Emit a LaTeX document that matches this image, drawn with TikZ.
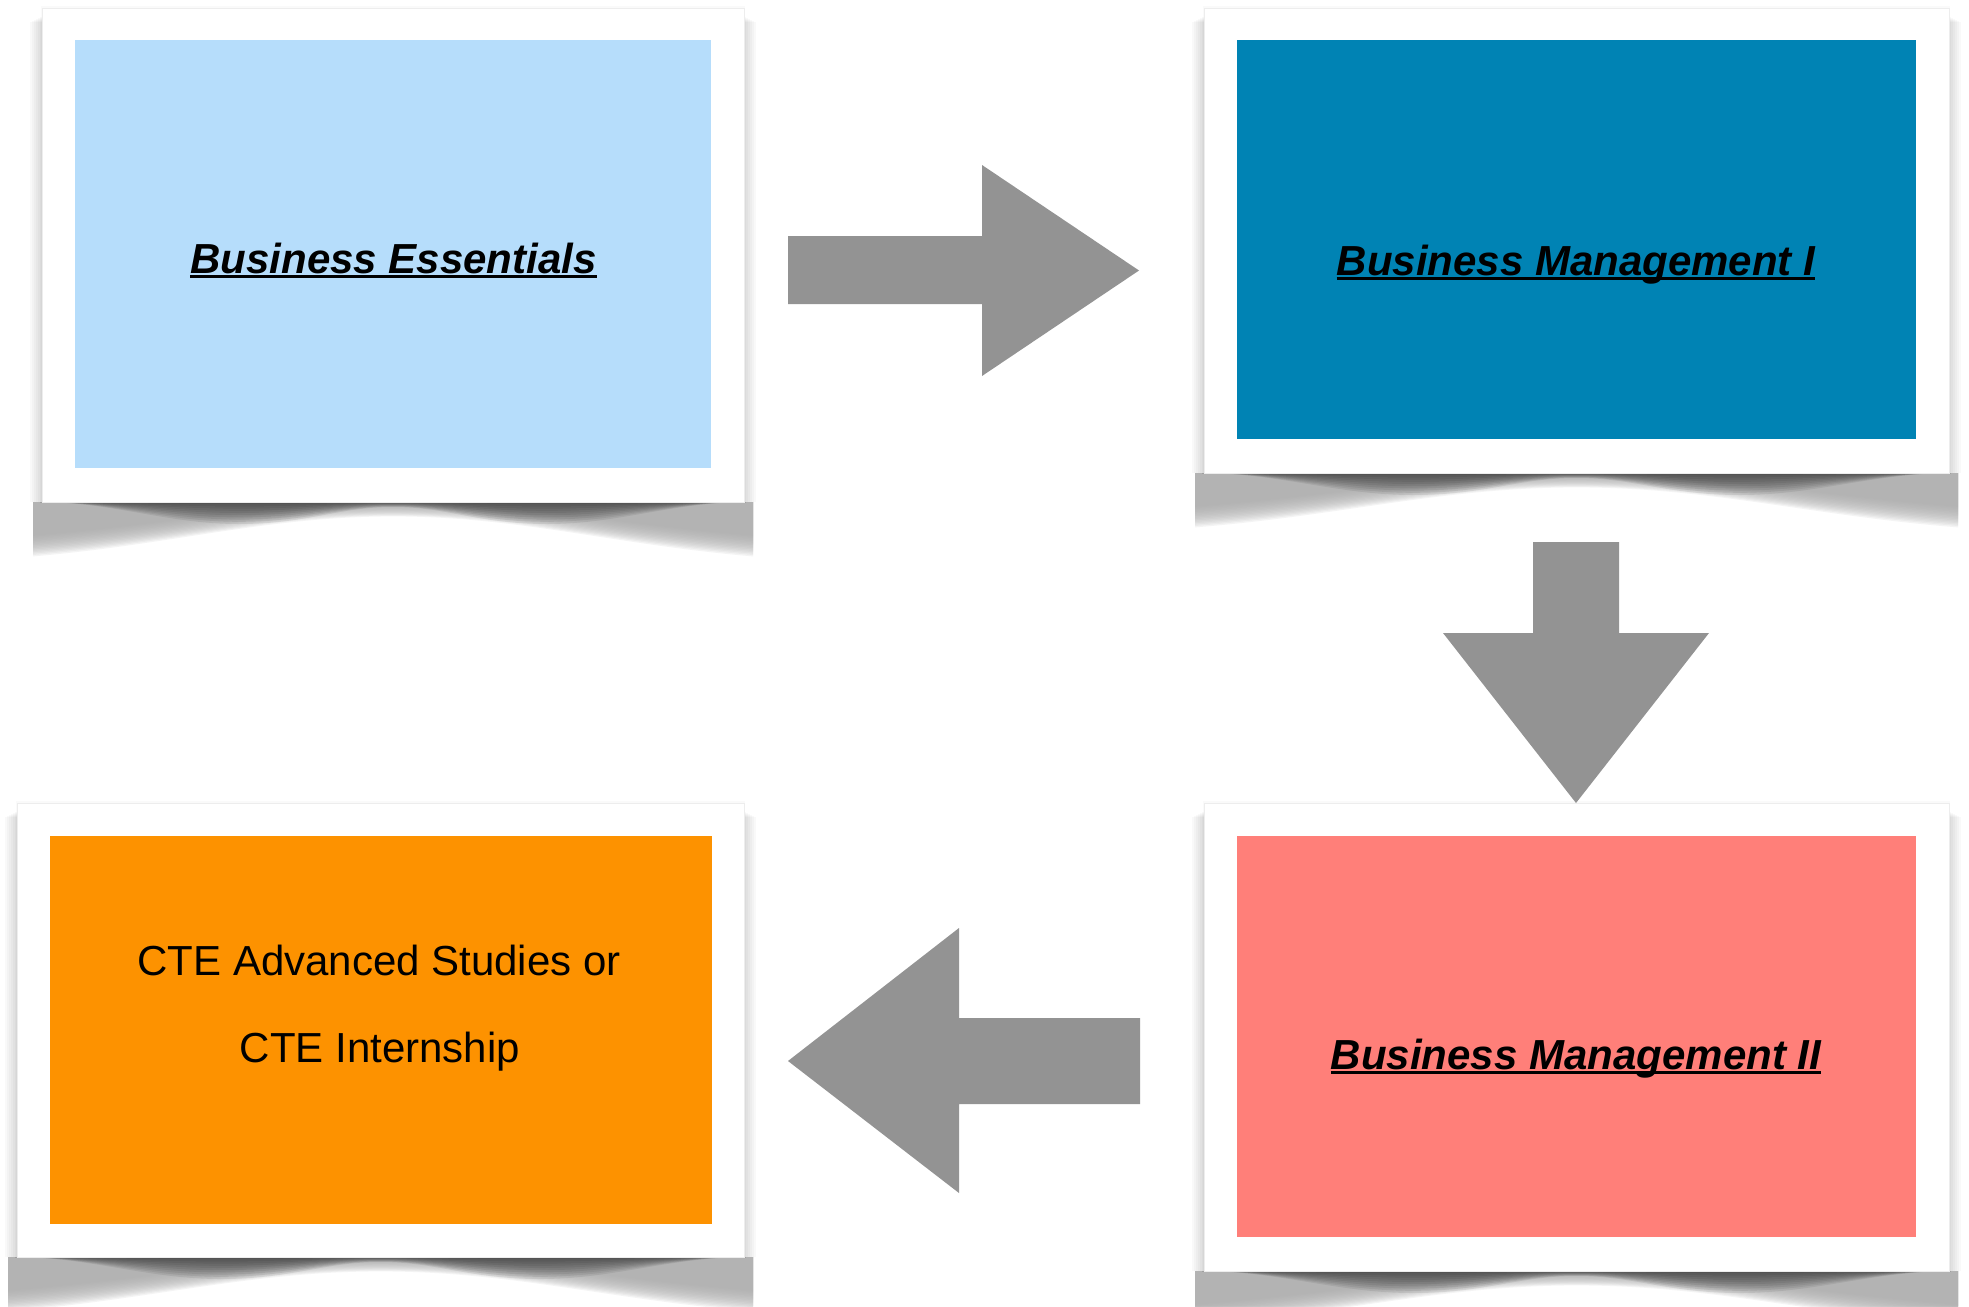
\documentclass[tikz,border=0pt]{standalone}
\usepackage{fontspec}
\setmainfont{Liberation Sans}
\usetikzlibrary{calc}
\definecolor{lightblue}{RGB}{182,221,251}
\definecolor{deepblue}{RGB}{0,131,180}
\definecolor{salmon}{RGB}{255,127,121}
\definecolor{orangebox}{RGB}{253,146,0}
\definecolor{arrowgray}{RGB}{147,147,147}
\definecolor{shbase}{RGB}{172,172,172}
\newcommand\curlshadow[4]{% L R T B
  % light base of the curled shadow
  \foreach \k in {1,...,16}{
    \pgfmathsetmacro\dc{32+1.4*\k}
    \pgfmathsetmacro\dm{0.9*\k}
    \fill[shbase, fill opacity=0.12]
      (#1-9,#4) -- (#1-9,#4+\dc)
      .. controls ({#1-9+0.2*(#2-#1)},{#4+\dc-12}) and ({#1+0.32*(#2-#1)},{#4+\dm}) .. ({(#1+#2)/2},{#4+\dm})
      .. controls ({#2-0.32*(#2-#1)},{#4+\dm}) and ({#2+9-0.2*(#2-#1)},{#4+\dc-12}) .. (#2+9,#4+\dc)
      -- (#2+9,#4) -- cycle;
  }
  % darker band right under the frame
  \foreach \k in {1,...,10}{
    \pgfmathsetmacro\dk{2.2*\k}
    \pgfmathsetmacro\mk{0.5*\k}
    \fill[black, fill opacity=0.07]
      (#1-2,#4)
      .. controls ({#1+0.1*(#2-#1)},{#4}) and ({#1+0.18*(#2-#1)},{#4+\dk}) .. ({#1+0.28*(#2-#1)},{#4+\dk})
      .. controls ({#1+0.38*(#2-#1)},{#4+\dk}) and ({#1+0.42*(#2-#1)},{#4+\mk}) .. ({(#1+#2)/2},{#4+\mk})
      .. controls ({#2-0.42*(#2-#1)},{#4+\mk}) and ({#2-0.38*(#2-#1)},{#4+\dk}) .. ({#2-0.28*(#2-#1)},{#4+\dk})
      .. controls ({#2-0.18*(#2-#1)},{#4+\dk}) and ({#2-0.1*(#2-#1)},{#4}) .. (#2+2,#4)
      -- cycle;
  }
  % soft side shadow of the frame
  \foreach \i in {1,...,6}{
    \fill[black, fill opacity=0.025] (#1-2*\i,#3+8+\i) rectangle (#2+2*\i,#4);
  }
  \fill[black, fill opacity=0.02] (#1-1,#3-2) rectangle (#2+1,#4);
}
\tikzset{
  frame/.style={fill=white, draw=black!7, line width=0.8pt, anchor=north west, inner sep=0pt},
  panel/.style={anchor=north west, inner sep=0pt, draw=none},
  title/.style={font=\fontsize{42}{50}\selectfont\bfseries\itshape, anchor=base, inner sep=0pt},
  plain/.style={font=\fontsize{42}{50}\selectfont, anchor=base, inner sep=0pt},
  uline/.style={line width=2.6pt},
  blockarrow/.style={fill=arrowgray, draw=none}
}
\begin{document}
\begin{tikzpicture}[x=1pt,y=-1pt]
\useasboundingbox (0,0) rectangle (1969,1306);
\fill[white] (0,0) rectangle (1969,1306);

% shadows
\curlshadow{42}{744}{8}{502}
\curlshadow{1204}{1949}{8}{473}
\curlshadow{17}{744}{803}{1257}
\curlshadow{1204}{1949}{803}{1271}

% frames
\node[frame, minimum width=702pt, minimum height=494pt] (f1) at (42,8) {};
\node[frame, minimum width=745pt, minimum height=465pt] (f2) at (1204,8) {};
\node[frame, minimum width=727pt, minimum height=454pt] (f3) at (17,803) {};
\node[frame, minimum width=745pt, minimum height=468pt] (f4) at (1204,803) {};

% coloured panels
\node[panel, fill=lightblue, minimum width=636pt, minimum height=428pt] (p1) at (75,40) {};
\node[panel, fill=deepblue, minimum width=679pt, minimum height=399pt] (p2) at (1237,40) {};
\node[panel, fill=orangebox, minimum width=662pt, minimum height=388pt] (p3) at (50,836) {};
\node[panel, fill=salmon, minimum width=679pt, minimum height=401pt] (p4) at (1237,836) {};

% texts
\node[title] (t1) at (393.5,273) {Business Essentials};
\draw[uline] ([yshift=-3.5pt]t1.base west) -- ([yshift=-3.5pt]t1.base east);
\node[title] (t2) at (1576,275) {Business Management I};
\draw[uline] ([yshift=-3.5pt]t2.base west) -- ([yshift=-3.5pt]t2.base east);
\node[title] (t4) at (1576,1069) {Business Management II};
\draw[uline] ([yshift=-3.5pt]t4.base west) -- ([yshift=-3.5pt]t4.base east);
\node[plain] (c1) at (379,975) {CTE Advanced Studies or};
\node[plain] (c2) at (380,1062) {CTE Internship};

% block arrows
\fill[blockarrow] (788,236) -- (982,236) -- (982,165) -- (1139,270.5) -- (982,376) -- (982,304) -- (788,304) -- cycle;
\fill[blockarrow] (1533,542) -- (1619,542) -- (1619,633) -- (1709,633) -- (1576,803) -- (1443,633) -- (1533,633) -- cycle;
\fill[blockarrow] (1140,1018) -- (959,1018) -- (959,928) -- (788,1061) -- (959,1193) -- (959,1104) -- (1140,1104) -- cycle;
\end{tikzpicture}
\end{document}
